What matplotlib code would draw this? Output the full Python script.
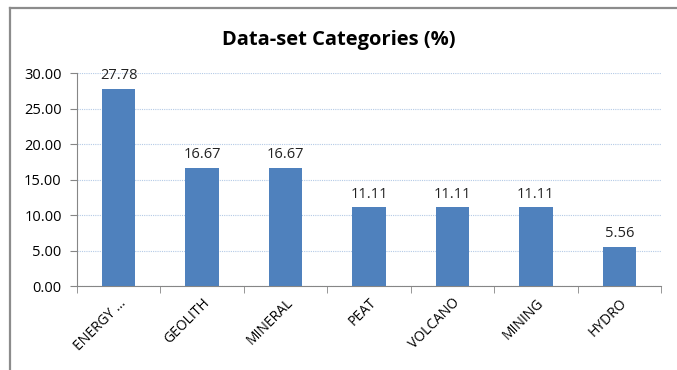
import matplotlib.pyplot as plt
from matplotlib.lines import Line2D
from matplotlib.ticker import FixedLocator, FormatStrFormatter

categories = ["ENERGY ...", "GEOLITH", "MINERAL", "PEAT", "VOLCANO", "MINING", "HYDRO"]
percentages = [27.78, 16.67, 16.67, 11.11, 11.11, 11.11, 5.56]
y_ticks = [0, 5, 10, 15, 20, 25, 30]

plt.rcParams['font.family'] = ['Open Sans', 'DejaVu Sans']

fig = plt.figure(figsize=(6.77, 3.70), dpi=100)
ax = fig.add_axes([0.1137, 0.227, 0.8627, 0.5757])

x = range(len(categories))
bars = ax.bar(x, percentages, width=0.4, color="#4F81BD", zorder=3)

for b, v in zip(bars, percentages):
    ax.annotate(f"{v:.2f}", (b.get_x() + b.get_width() / 2, v),
                xytext=(0, 4), textcoords="offset points",
                ha="center", va="bottom", fontsize=10.5, color="#222222")

ax.set_xlim(-0.5, len(categories) - 0.5)
ax.set_ylim(0, 30)
ax.set_yticks(y_ticks)
ax.yaxis.set_major_formatter(FormatStrFormatter("%.2f"))
ax.grid(axis="y", color="#B4CAE6", linestyle=(0, (1, 1)), linewidth=0.8, zorder=0)

# category labels sit at bar centres, tick marks between categories
ax.set_xticks(list(x))
ax.set_xticklabels(categories, rotation=45, ha="right", rotation_mode="anchor", fontsize=10)
ax.tick_params(axis="x", which="major", length=0, pad=7)
ax.xaxis.set_minor_locator(FixedLocator([i - 0.5 for i in range(len(categories) + 1)]))
ax.tick_params(axis="x", which="minor", length=5, color="#868686", direction="out")
ax.tick_params(axis="y", length=5, color="#868686", labelsize=10.5, pad=6)

for side in ("top", "right"):
    ax.spines[side].set_visible(False)
for side in ("left", "bottom"):
    ax.spines[side].set_color("#868686")

fig.text(0.5, 0.893, "Data-set Categories (%)", ha="center", va="center",
         fontsize=14.5, fontweight="bold")

# outer chart frame
fig.add_artist(Line2D([0.0148, 1.0], [0.978, 0.978], color="#8C8C8C", linewidth=1.6))
fig.add_artist(Line2D([0.0148, 0.0148], [0.0, 0.978], color="#8C8C8C", linewidth=1.6))

fig.savefig("out.png", dpi=100)
